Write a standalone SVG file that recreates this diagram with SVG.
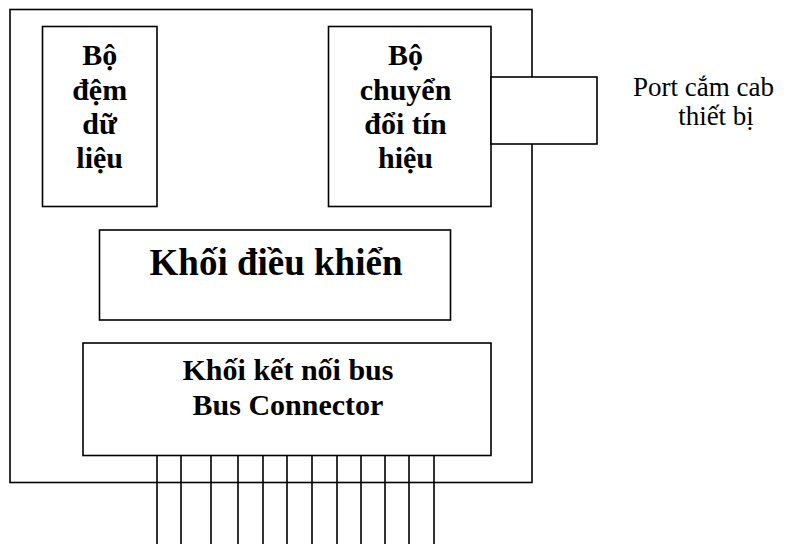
<svg xmlns="http://www.w3.org/2000/svg" width="790" height="544" viewBox="0 0 790 544">
<style>
.box{fill:#fff;stroke:#000;stroke-width:1.6}
.ln{stroke:#000;stroke-width:1.6;fill:none}
text{font-family:'Liberation Serif','Times New Roman',Tinos,'DejaVu Serif',serif;fill:#000}
.b{font-weight:bold;text-anchor:middle}
</style>
<rect width="790" height="544" fill="#fff"/>
<g id="device">
<rect class="box" x="10" y="9.5" width="522" height="473"/>
</g>
<g id="buffer">
<rect class="box" x="42.5" y="26.5" width="114.5" height="180"/>
<text class="b" font-size="30" x="99.7" y="65">Bộ</text>
<text class="b" font-size="30" x="99.7" y="100">đệm</text>
<text class="b" font-size="30" x="99.7" y="134">dữ</text>
<text class="b" font-size="30" x="99.7" y="168">liệu</text>
</g>
<g id="converter">
<rect class="box" x="328.5" y="26.5" width="162.5" height="180"/>
<text class="b" font-size="30" x="405.5" y="65">Bộ</text>
<text class="b" font-size="30" x="405.5" y="100">chuyển</text>
<text class="b" font-size="30" x="405.5" y="134">đổi tín</text>
<text class="b" font-size="30" x="405.5" y="168">hiệu</text>
</g>
<g id="port">
<rect class="box" x="491" y="77" width="106" height="67"/>
<text font-size="27" x="633" y="96">Port cắm cab</text>
<text font-size="27" x="716" y="125" text-anchor="middle">thiết bị</text>
</g>
<g id="control">
<rect class="box" x="99.5" y="230" width="351" height="90"/>
<text class="b" font-size="37" x="276" y="275">Khối điều khiển</text>
</g>
<g id="busconn">
<rect class="box" x="83" y="343" width="408" height="112.5"/>
<text class="b" font-size="30" x="288" y="380">Khối kết nối bus</text>
<text class="b" font-size="30" x="288" y="415">Bus Connector</text>
</g>
<g id="connectors">
<path class="ln" d="M157 455.5V544M181 455.5V544M211 455.5V544M238 455.5V544M263 455.5V544M287 455.5V544M312 455.5V544M337 455.5V544M361 455.5V544M385 455.5V544M409 455.5V544M434 455.5V544"/>
</g>
</svg>
